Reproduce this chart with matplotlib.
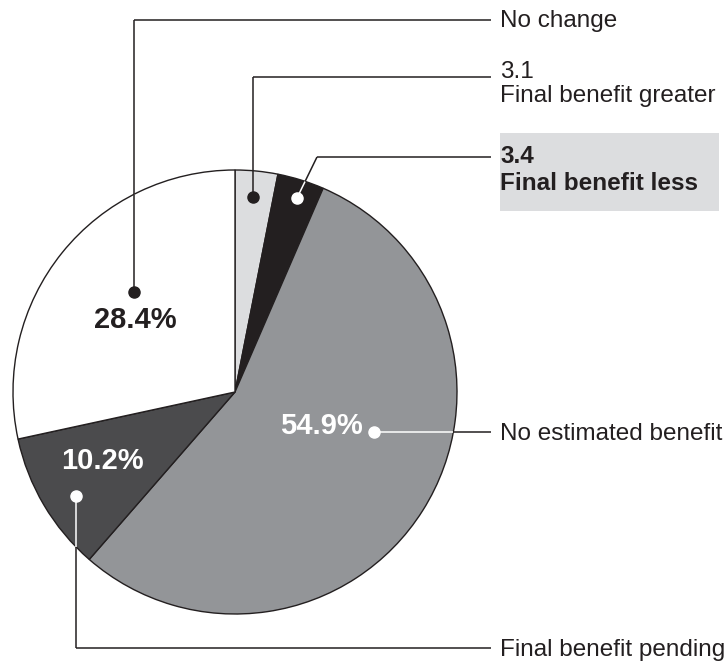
import numpy as np
import matplotlib.pyplot as plt

plt.rcParams['font.family'] = ['Liberation Sans', 'DejaVu Sans']

# shares, clockwise from 12 o'clock
shares = [3.1, 3.4, 54.9, 10.2, 28.4]
names = ['Final benefit greater', 'Final benefit less', 'No estimated benefit',
         'Final benefit pending', 'No change']
colours = ['#dcdddf', '#231f20', '#939598', '#4b4b4d', '#ffffff']

W, H = 727, 662
cx, cy, R = 235, H - 392, 222

fig = plt.figure(figsize=(W / 100, H / 100), dpi=100)
ax = fig.add_axes([0, 0, 1, 1])

ax.pie(shares, colors=colours, startangle=90, counterclock=False,
       center=(cx, cy), radius=R, frame=True,
       wedgeprops=dict(edgecolor='#231f20', linewidth=1.0))
ax.set_xlim(0, W)
ax.set_ylim(0, H)
ax.set_aspect('equal')
ax.axis('off')


def py(y):
    return H - y


def inside(x, y):
    return (x - cx) ** 2 + (y - cy) ** 2 <= R ** 2


def leader(pts, col_in, col_out):
    # split the path where it leaves the circle so the inner part can be white
    pts = [(x, py(y)) for x, y in pts]
    for (x0, y0), (x1, y1) in zip(pts[:-1], pts[1:]):
        t = np.linspace(0, 1, 400)
        xs = x0 + (x1 - x0) * t
        ys = y0 + (y1 - y0) * t
        m = np.array([inside(a, b) for a, b in zip(xs, ys)])
        if m.any():
            ax.plot(xs[m], ys[m], color=col_in, lw=1.1, zorder=5, solid_capstyle='butt')
        if (~m).any():
            ax.plot(xs[~m], ys[~m], color=col_out, lw=1.1, zorder=5, solid_capstyle='butt')


def dot(x, y, c):
    ax.plot(x, py(y), 'o', ms=8, color=c, zorder=6)


def label(y, s, bold=False):
    ax.text(xt, py(y), s, fontsize=fs, fontweight='bold' if bold else 'normal',
            va='baseline', ha='left', color='#231f20', zorder=3)


def pct(x, y, v, c):
    ax.text(x, py(y), f'{v}%', fontsize=21, fontweight='bold',
            ha='center', va='center', color=c, zorder=4)


ink = '#231f20'
xl = 491
xt = 500
fs = 17.5

# No change
leader([(134, 292), (134, 20), (xl, 20)], ink, ink)
dot(134, 292, ink)
label(27, names[4])
pct(135, 320, shares[4], ink)

# Final benefit greater
leader([(253, 197), (253, 77), (xl, 77)], ink, ink)
dot(253, 197, ink)
label(78, f'{shares[0]}')
label(102, names[0])

# Final benefit less
ax.add_patch(plt.Rectangle((500, py(211)), 219, 78, facecolor='#dcdddf',
                           edgecolor='none', zorder=1))
leader([(297, 198), (317, 157), (xl, 157)], '#ffffff', ink)
dot(297, 198, '#ffffff')
label(163, f'{shares[1]}', bold=True)
label(190, names[1], bold=True)

# No estimated benefit
leader([(374, 432), (xl, 432)], '#ffffff', ink)
dot(374, 432, '#ffffff')
pct(321, 426, shares[2], '#ffffff')
label(440, names[2])

# Final benefit pending
leader([(76, 496), (76, 648), (xl, 648)], '#ffffff', ink)
dot(76, 496, '#ffffff')
pct(102, 461, shares[3], '#ffffff')
label(656, names[3])

fig.savefig('out.png', dpi=100)
